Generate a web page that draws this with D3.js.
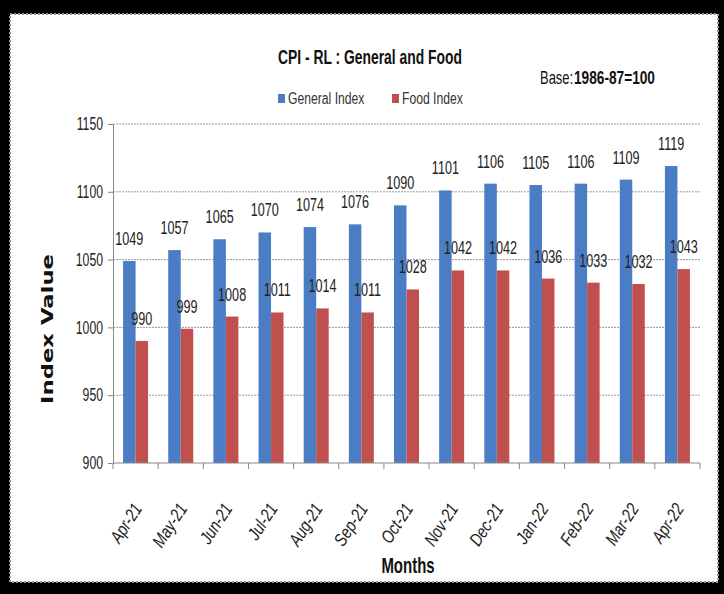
<!DOCTYPE html>
<html>
<head>
<meta charset="utf-8">
<script src="https://cdn.jsdelivr.net/npm/d3@7"></script>
<style>
  body { margin: 0; background: #000; }
  svg { display: block; }
  .narrow { font-family: "Liberation Sans", Arial, sans-serif; }
</style>
</head>
<body>
<svg id="chart" width="724" height="594"></svg>
<script>
// Chart data.
var months = ["Apr-21", "May-21", "Jun-21", "Jul-21", "Aug-21", "Sep-21", "Oct-21",
              "Nov-21", "Dec-21", "Jan-22", "Feb-22", "Mar-22", "Apr-22"];
var generalIndex = [1049, 1057, 1065, 1070, 1074, 1076, 1090, 1101, 1106, 1105, 1106, 1109, 1119];
var foodIndex = [990, 999, 1008, 1011, 1014, 1011, 1028, 1042, 1042, 1036, 1033, 1032, 1043];
var seriesNames = ["General Index", "Food Index"];
var yTicks = [900, 950, 1000, 1050, 1100, 1150];

var colors = ["#4a7dc4", "#c0504d"];

// Squeezes text horizontally (the original uses a condensed face).
function squeeze(sel, factor) {
    sel.each(function() {
        var w = this.getComputedTextLength();
        d3.select(this)
            .attr("textLength", w * factor)
            .attr("lengthAdjust", "spacingAndGlyphs");
    });
}

var svg = d3.select("#chart");

// White chart sheet with dotted edge.
svg.append("rect")
    .attr("x", 10).attr("y", 14)
    .attr("width", 708).attr("height", 568)
    .attr("fill", "#fff")
    .attr("stroke", "#999")
    .attr("stroke-width", 2)
    .attr("stroke-dasharray", "2,2");

// Plot area.
var plotLeft = 113, plotRight = 700, plotTop = 124, plotBottom = 463;

var x = d3.scaleBand().domain(months).range([plotLeft, plotRight]);
var sub = d3.scaleBand().domain([0, 1]).range([0, 25]);
var y = d3.scaleLinear().domain([900, 1150]).range([plotBottom, plotTop]);

// Gridlines.
svg.append("g")
    .selectAll("line")
    .data(yTicks.slice(1))
    .enter().append("line")
    .attr("x1", plotLeft).attr("x2", plotRight)
    .attr("y1", y).attr("y2", y)
    .attr("stroke", "#999")
    .attr("stroke-dasharray", "2,1");

// Bars per month.
var values = [generalIndex, foodIndex];
var pairs = function(m, i) { return [0, 1].map(function(s) { return {s: s, v: values[s][i]}; }); };

var groups = svg.append("g")
    .selectAll("g")
    .data(months)
    .enter().append("g")
    .attr("transform", function(m) { return "translate(" + (x(m) + x.bandwidth() / 2 - 12.5) + ",0)"; });

groups.selectAll("rect")
    .data(pairs)
    .enter().append("rect")
    .attr("x", function(d) { return sub(d.s); })
    .attr("width", sub.bandwidth())
    .attr("y", function(d) { return y(d.v); })
    .attr("height", function(d) { return plotBottom - y(d.v); })
    .attr("fill", function(d) { return colors[d.s]; });

// Value labels.
var valueLabels = groups.selectAll("text")
    .data(pairs)
    .enter().append("text")
    .attr("class", "narrow")
    .attr("x", function(d) { return sub(d.s) + sub.bandwidth() / 2; })
    .attr("y", function(d) { return y(d.v) - 16; })
    .attr("text-anchor", "middle")
    .attr("font-size", 18)
    .attr("fill", "#222")
    .text(function(d) { return d.v; });
squeeze(valueLabels, 0.7);

// Y axis.
var yAxis = svg.append("g")
    .attr("transform", "translate(" + plotLeft + ",0)")
    .call(d3.axisLeft(y).tickValues(yTicks).tickFormat(d3.format("d")).tickSize(5).tickPadding(5));
yAxis.select(".domain").attr("stroke", "#888");
yAxis.selectAll(".tick line").attr("stroke", "#888");
yAxis.selectAll("text")
    .attr("class", "narrow")
    .attr("font-size", 18)
    .attr("font-family", null)
    .attr("fill", "#222");
squeeze(yAxis.selectAll("text"), 0.68);

// X axis, ticks on band edges.
var xAxis = svg.append("g")
    .attr("transform", "translate(0," + plotBottom + ")");
xAxis.append("line")
    .attr("x1", plotLeft).attr("x2", plotRight)
    .attr("stroke", "#888");
xAxis.selectAll(".edge")
    .data(months.concat(["end"]))
    .enter().append("line")
    .attr("class", "edge")
    .attr("x1", function(m, i) { return i < months.length ? x(m) : plotRight; })
    .attr("x2", function(m, i) { return i < months.length ? x(m) : plotRight; })
    .attr("y1", 0).attr("y2", 6)
    .attr("stroke", "#888");
var xLabels = xAxis.selectAll(".lbl")
    .data(months)
    .enter().append("text")
    .attr("class", "narrow lbl")
    .attr("transform", function(m) { return "translate(" + (x(m) + x.bandwidth() / 2 + 2) + ",42) rotate(-57)"; })
    .attr("text-anchor", "end")
    .attr("dy", "0.35em")
    .attr("font-size", 18)
    .attr("font-style", "italic")
    .attr("fill", "#222")
    .text(function(m) { return m; });
squeeze(xLabels, 0.8);

// Titles.
var title = svg.append("text")
    .attr("class", "narrow")
    .attr("x", 370).attr("y", 64)
    .attr("text-anchor", "middle")
    .attr("font-size", 21)
    .attr("font-weight", "bold")
    .attr("fill", "#111")
    .text("CPI - RL : General and Food");
squeeze(title, 0.66);

// Base note, condensed by scaling so its box stays tight.
svg.append("text")
    .attr("class", "narrow")
    .attr("transform", "translate(540,84) scale(0.72,1)")
    .attr("font-size", 18)
    .attr("fill", "#111")
    .text("Base:");
svg.append("text")
    .attr("class", "narrow")
    .attr("transform", "translate(574,84) scale(0.76,1)")
    .attr("font-size", 18)
    .attr("font-weight", "bold")
    .attr("fill", "#111")
    .text("1986-87=100");

svg.append("text")
    .attr("transform", "translate(53,329) rotate(-90)")
    .attr("text-anchor", "middle")
    .attr("font-family", "DejaVu Sans")
    .attr("font-size", 16)
    .attr("font-weight", "bold")
    .attr("textLength", 150)
    .attr("lengthAdjust", "spacingAndGlyphs")
    .attr("fill", "#111")
    .text("Index Value");

var monthsTitle = svg.append("text")
    .attr("class", "narrow")
    .attr("x", 408).attr("y", 573)
    .attr("text-anchor", "middle")
    .attr("font-size", 22)
    .attr("font-weight", "bold")
    .attr("fill", "#111")
    .text("Months");
squeeze(monthsTitle, 0.68);

// Legend.
var legendX = [278, 392];
var legend = svg.append("g")
    .selectAll("g")
    .data(seriesNames)
    .enter().append("g")
    .attr("transform", function(d, i) { return "translate(" + legendX[i] + ",94)"; });
legend.append("rect")
    .attr("width", 7).attr("height", 9)
    .attr("fill", function(d, i) { return colors[i]; });
var legendText = legend.append("text")
    .attr("class", "narrow")
    .attr("x", 10).attr("y", 10)
    .attr("font-size", 16)
    .attr("fill", "#333")
    .text(function(d) { return d; });
squeeze(legendText, 0.76);
</script>
</body>
</html>
